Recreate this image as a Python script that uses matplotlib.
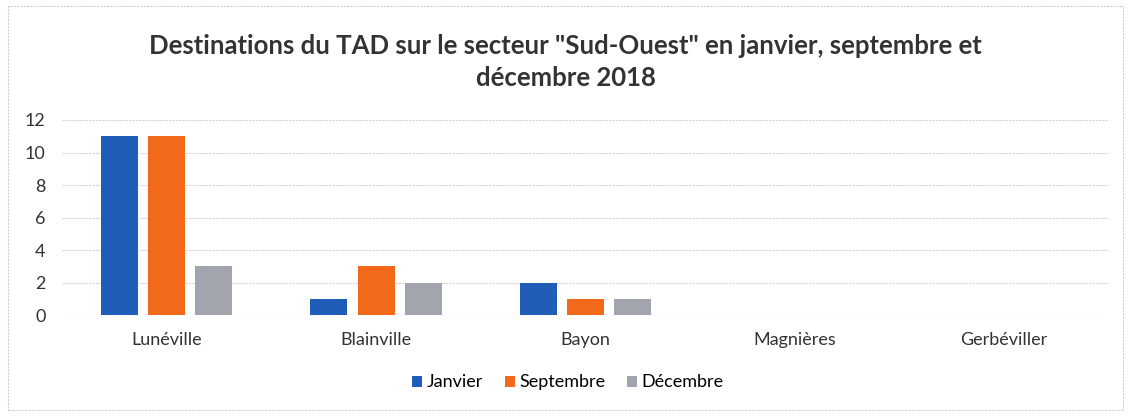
import matplotlib
matplotlib.use("Agg")
import matplotlib.pyplot as plt
import numpy as np
from matplotlib.patches import Rectangle

# --------------------------------------------------------------------------- #
# Data
# --------------------------------------------------------------------------- #
destinations = ["Lunéville", "Blainville", "Bayon", "Magnières", "Gerbéviller"]
janvier    = [11, 1, 2, 0, 0]
septembre  = [11, 3, 1, 0, 0]
decembre   = [3, 2, 1, 0, 0]
series_names = ["Janvier", "Septembre", "Décembre"]
colors = ["#1F5DB8", "#F2691B", "#A2A5AD"]

plt.rcParams["font.family"] = ["Lato", "DejaVu Sans"]

fig = plt.figure(figsize=(11.31, 4.18), dpi=100)
ax = fig.add_axes([0.055, 0.246, 0.925, 0.467])

x = np.arange(len(destinations))
width = 0.177
pitch = 0.225
for i, (vals, name, col) in enumerate(zip([janvier, septembre, decembre],
                                          series_names, colors)):
    ax.bar(x + (i - 1) * pitch, vals, width, color=col, label=name, zorder=3)

ax.set_xlim(-0.5, len(destinations) - 0.5)
ax.set_ylim(0, 12)
ax.set_yticks(range(0, 13, 2))
ax.set_xticks(x)
ax.set_xticklabels(destinations)
ax.tick_params(axis="both", length=0, labelsize=13, colors="#333333")
ax.tick_params(axis="x", pad=12)
ax.tick_params(axis="y", pad=12)
ax.grid(axis="y", color="#D4D4D4", lw=0.8, ls=(0, (2, 1)), zorder=0)
for s in ax.spines.values():
    s.set_visible(False)

fig.suptitle('Destinations du TAD sur le secteur "Sud-Ouest" en janvier, septembre et\ndécembre 2018',
             y=0.918, fontsize=18.5, fontweight="bold", color="#333333",
             linespacing=1.4)

fig.legend(loc="center", bbox_to_anchor=(0.502, 0.085), ncol=3, frameon=False,
           fontsize=13, handlelength=0.55, handleheight=0.55, handletextpad=0.25,
           columnspacing=1.2)

# outer chart border
fig.patches.append(Rectangle((0.007, 0.02), 0.986, 0.966, transform=fig.transFigure,
                             fill=False, ec="#CFCFCF", lw=0.8, ls=(0, (2, 1))))

fig.savefig("out.png", dpi=100)
